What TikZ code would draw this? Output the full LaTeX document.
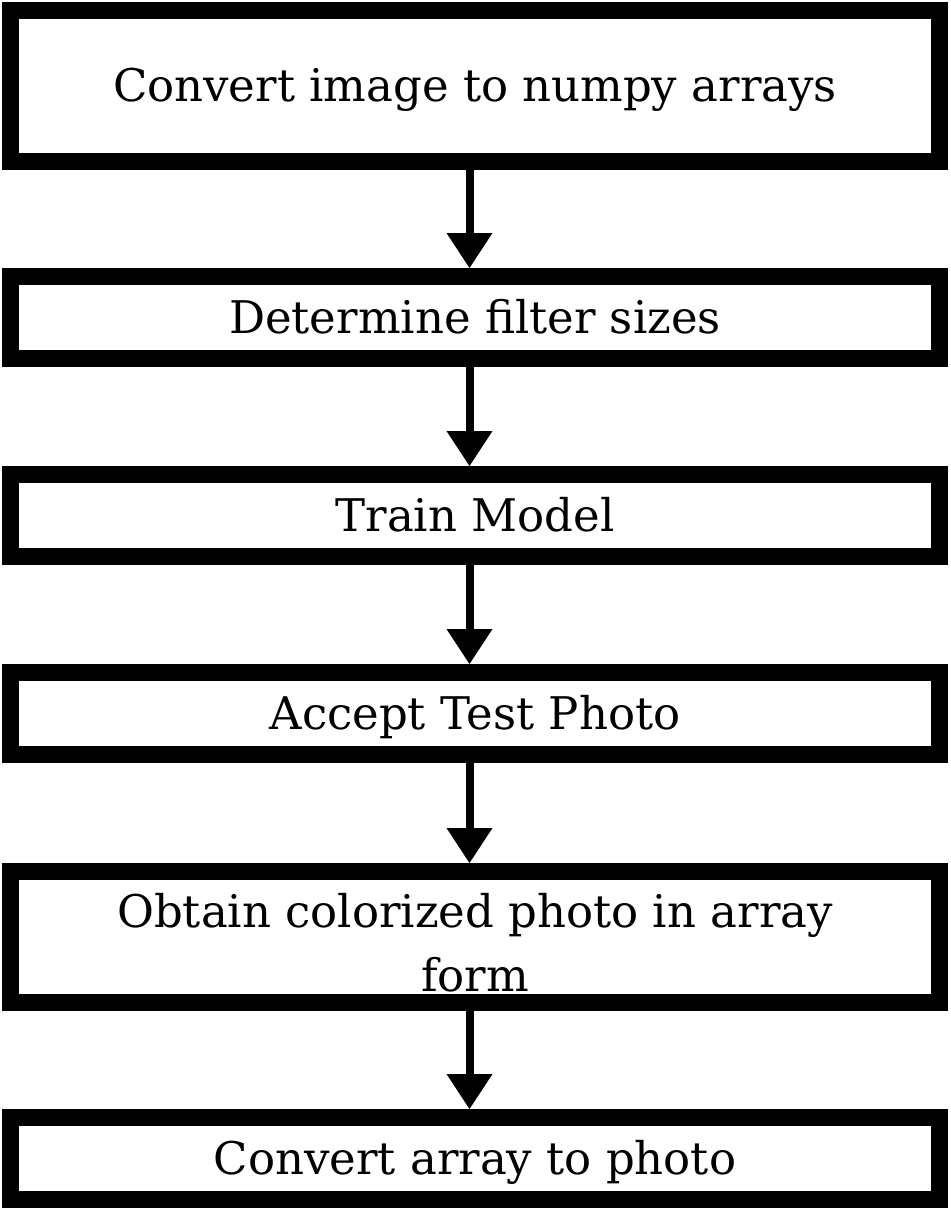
\documentclass[tikz,border=0pt]{standalone}
\usepackage{fontspec}
\setmainfont{DejaVu Serif}
\usetikzlibrary{arrows.meta,positioning}

\begin{document}
\begin{tikzpicture}[x=0.5pt, y=-0.5pt,
	my box/.style = {draw, line width=8.5pt,
                   minimum width=464.5pt, minimum height=41pt,
                   inner sep=0pt, align=center,
                   text height=16pt, text depth=0pt,
                   font=\fontsize{22.5}{32}\selectfont},
	my arrow/.style = {line width=4pt,
                   -{Triangle[width=23pt, length=17.5pt, line width=0pt]}}
                   ]
\useasboundingbox (0,0) rectangle (951,1212);

\node[my box, minimum height=75.25pt] (conv) at (475,85.75) {Convert image to numpy arrays};
\node[my box] (filt) at (475,317.5) {Determine filter sizes};
\node[my box] (train) at (475,515.5) {Train Model};
\node[my box] (test) at (475,713.5) {Accept Test Photo};
\node[my box, minimum height=65.25pt, text height=55pt] (obt) at (475,936.75)
	{Obtain colorized photo in array\\form};
\node[my box] (back) at (475,1158.5) {Convert array to photo};

% flow
\draw[my arrow] ([xshift=-2.75pt]conv.south) -- ([xshift=-2.75pt]filt.north);
\draw[my arrow] ([xshift=-2.75pt]filt.south) -- ([xshift=-2.75pt]train.north);
\draw[my arrow] ([xshift=-2.75pt]train.south) -- ([xshift=-2.75pt]test.north);
\draw[my arrow] ([xshift=-2.75pt]test.south) -- ([xshift=-2.75pt]obt.north);
\draw[my arrow] ([xshift=-2.75pt]obt.south) -- ([xshift=-2.75pt]back.north);
\end{tikzpicture}
\end{document}
